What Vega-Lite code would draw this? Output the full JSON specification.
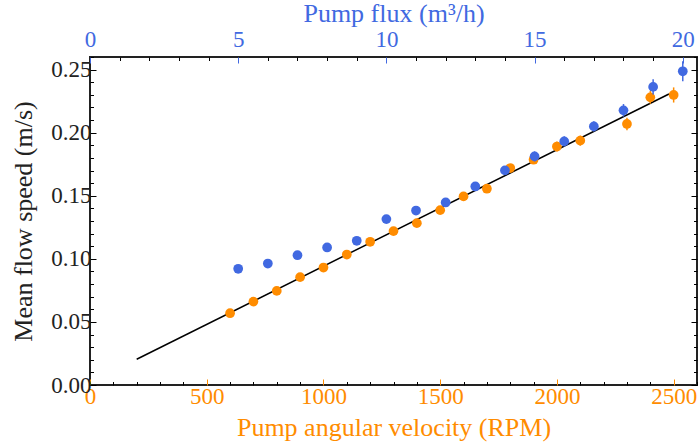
{
  "$schema": "https://vega.github.io/schema/vega-lite/v6.json",
  "width": 607,
  "height": 328,
  "autosize": {"type": "none"},
  "padding": {"left": 90, "top": 57, "right": 2, "bottom": 63},
  "background": "white",
  "config": {
    "view": {"stroke": "#222222", "strokeWidth": 2},
    "font": "Liberation Serif",
    "axis": {
      "grid": false, "domain": false, "labelFont": "Liberation Serif", "titleFont": "Liberation Serif",
      "labelFontSize": 23, "titleFontSize": 26, "titleFontWeight": "normal",
      "labelFlush": false, "labelOverlap": false, "labelBound": false, "tickWidth": 1
    }
  },
  "datasets": {
    "rpm": [
      {"rpm": 600, "v": 0.0569, "lo": 0.0549, "hi": 0.0589},
      {"rpm": 700, "v": 0.0661, "lo": 0.0641, "hi": 0.0681},
      {"rpm": 800, "v": 0.0746, "lo": 0.0726, "hi": 0.0766},
      {"rpm": 900, "v": 0.0855, "lo": 0.0835, "hi": 0.0875},
      {"rpm": 1000, "v": 0.0931, "lo": 0.0911, "hi": 0.0951},
      {"rpm": 1100, "v": 0.1034, "lo": 0.1014, "hi": 0.1054},
      {"rpm": 1200, "v": 0.1135, "lo": 0.1115, "hi": 0.1155},
      {"rpm": 1300, "v": 0.1220, "lo": 0.1200, "hi": 0.1240},
      {"rpm": 1400, "v": 0.1283, "lo": 0.1253, "hi": 0.1313},
      {"rpm": 1500, "v": 0.1386, "lo": 0.1356, "hi": 0.1416},
      {"rpm": 1600, "v": 0.1495, "lo": 0.1465, "hi": 0.1525},
      {"rpm": 1700, "v": 0.1556, "lo": 0.1526, "hi": 0.1586},
      {"rpm": 1800, "v": 0.1720, "lo": 0.1690, "hi": 0.1750},
      {"rpm": 1900, "v": 0.1786, "lo": 0.1756, "hi": 0.1816},
      {"rpm": 2000, "v": 0.1890, "lo": 0.1850, "hi": 0.1930},
      {"rpm": 2100, "v": 0.1937, "lo": 0.1897, "hi": 0.1977},
      {"rpm": 2300, "v": 0.2069, "lo": 0.2019, "hi": 0.2119},
      {"rpm": 2400, "v": 0.2280, "lo": 0.2230, "hi": 0.2330},
      {"rpm": 2500, "v": 0.2299, "lo": 0.2239, "hi": 0.2359}
    ],
    "flux": [
      {"flux": 5, "v": 0.0921, "lo": 0.0901, "hi": 0.0941},
      {"flux": 6, "v": 0.0963, "lo": 0.0943, "hi": 0.0983},
      {"flux": 7, "v": 0.1029, "lo": 0.1009, "hi": 0.1049},
      {"flux": 8, "v": 0.1090, "lo": 0.1070, "hi": 0.1110},
      {"flux": 9, "v": 0.1143, "lo": 0.1123, "hi": 0.1163},
      {"flux": 10, "v": 0.1315, "lo": 0.1295, "hi": 0.1335},
      {"flux": 11, "v": 0.1383, "lo": 0.1363, "hi": 0.1403},
      {"flux": 12, "v": 0.1447, "lo": 0.1427, "hi": 0.1467},
      {"flux": 13, "v": 0.1574, "lo": 0.1544, "hi": 0.1604},
      {"flux": 14, "v": 0.1701, "lo": 0.1671, "hi": 0.1731},
      {"flux": 15, "v": 0.1812, "lo": 0.1772, "hi": 0.1852},
      {"flux": 16, "v": 0.1931, "lo": 0.1891, "hi": 0.1971},
      {"flux": 17, "v": 0.2050, "lo": 0.2010, "hi": 0.2090},
      {"flux": 18, "v": 0.2177, "lo": 0.2127, "hi": 0.2227},
      {"flux": 19, "v": 0.2363, "lo": 0.2303, "hi": 0.2423},
      {"flux": 20, "v": 0.2487, "lo": 0.2407, "hi": 0.2567}
    ],
    "fit": [
      {"rpm": 200, "v": 0.0204},
      {"rpm": 2480, "v": 0.2307}
    ]
  },
  "layer": [
    {
      "data": {"name": "fit"},
      "mark": {"type": "line", "color": "black", "strokeWidth": 1.5},
      "encoding": {
        "x": {"field": "rpm", "type": "quantitative", "scale": {"domain": [0, 2600], "nice": false, "zero": false}, "axis": null},
        "y": {"field": "v", "type": "quantitative", "scale": {"domain": [0, 0.26], "nice": false, "zero": false},
          "axis": {"orient": "right", "values": [0, 0.05, 0.1, 0.15, 0.2, 0.25], "tickSize": -6, "tickColor": "black", "labels": false, "title": null}}
      }
    },
    {
      "data": {"name": "rpm"},
      "mark": {"type": "rule", "color": "darkorange", "strokeWidth": 1.5},
      "encoding": {
        "x": {"field": "rpm", "type": "quantitative", "scale": {"domain": [0, 2600], "nice": false, "zero": false},
          "axis": {"orient": "bottom", "values": [0,100,200,300,400,600,700,800,900,1100,1200,1300,1400,1600,1700,1800,1900,2100,2200,2300,2400,2600], "tickSize": -3.5, "tickColor": "black", "labels": false, "title": null}},
        "y": {"field": "lo", "type": "quantitative", "scale": {"domain": [0, 0.26], "nice": false, "zero": false},
          "axis": {"orient": "left", "values": [0.01,0.02,0.03,0.04,0.06,0.07,0.08,0.09,0.11,0.12,0.13,0.14,0.16,0.17,0.18,0.19,0.21,0.22,0.23,0.24,0.26], "tickSize": -3.5, "tickColor": "black", "labels": false, "title": null}},
        "y2": {"field": "hi"}
      }
    },
    {
      "data": {"name": "rpm"},
      "mark": {"type": "point", "filled": true, "opacity": 1, "size": 95, "color": "darkorange"},
      "encoding": {
        "x": {"field": "rpm", "type": "quantitative", "scale": {"domain": [0, 2600], "nice": false, "zero": false},
          "axis": {"orient": "bottom", "values": [0, 500, 1000, 1500, 2000, 2500], "format": "d", "tickSize": -6, "tickColor": "darkorange", "labelColor": "darkorange", "labelPadding": 6,
            "title": "Pump angular velocity (RPM)", "titleColor": "darkorange", "titlePadding": 6}},
        "y": {"field": "v", "type": "quantitative", "scale": {"domain": [0, 0.26], "nice": false, "zero": false},
          "axis": {"orient": "left", "values": [0, 0.05, 0.1, 0.15, 0.2, 0.25], "format": ".2f", "tickSize": -6, "tickColor": "black", "labelColor": "#222222", "labelPadding": 5,
            "title": "Mean flow speed (m/s)", "titleColor": "#222222", "titlePadding": 14}}
      }
    },
    {
      "data": {"name": "flux"},
      "mark": {"type": "rule", "color": "royalblue", "strokeWidth": 1.5},
      "encoding": {
        "x": {"field": "flux", "type": "quantitative", "scale": {"domain": [0, 20.48], "nice": false, "zero": false},
          "axis": {"orient": "top", "values": [1,2,3,4,6,7,8,9,11,12,13,14,16,17,18,19], "tickSize": -3.5, "tickColor": "black", "labels": false, "title": null}},
        "y": {"field": "lo", "type": "quantitative", "scale": {"domain": [0, 0.26], "nice": false, "zero": false},
          "axis": {"orient": "right", "values": [0.01,0.02,0.03,0.04,0.06,0.07,0.08,0.09,0.11,0.12,0.13,0.14,0.16,0.17,0.18,0.19,0.21,0.22,0.23,0.24,0.26], "tickSize": -3.5, "tickColor": "black", "labels": false, "title": null}},
        "y2": {"field": "hi"}
      }
    },
    {
      "data": {"name": "flux"},
      "mark": {"type": "point", "filled": true, "opacity": 1, "size": 95, "color": "royalblue"},
      "encoding": {
        "x": {"field": "flux", "type": "quantitative", "scale": {"domain": [0, 20.48], "nice": false, "zero": false},
          "axis": {"orient": "top", "values": [0, 5, 10, 15, 20], "tickSize": -6, "tickColor": "royalblue", "labelColor": "royalblue", "labelPadding": 12,
            "title": "Pump flux (m³/h)", "titleColor": "royalblue", "titlePadding": 2}},
        "y": {"field": "v", "type": "quantitative", "scale": {"domain": [0, 0.26], "nice": false, "zero": false}, "axis": null}
      }
    }
  ],
  "resolve": {"scale": {"x": "independent"}, "axis": {"x": "independent", "y": "independent"}}
}
